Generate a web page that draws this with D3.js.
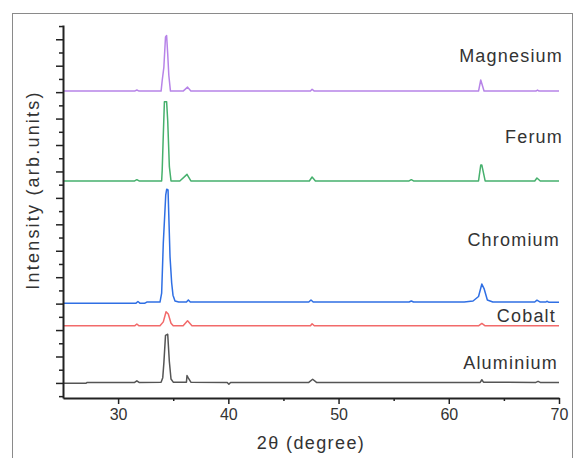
<!DOCTYPE html>
<html>
<head>
<meta charset="utf-8">
<script src="https://cdn.jsdelivr.net/npm/d3@7/dist/d3.min.js"></script>
<style>
  body { margin: 0; background: #fff; }
  text { font-family: "Liberation Sans", Arial, sans-serif; fill: #333; }
  .label { font-size: 18px; letter-spacing: 1.2px; }
  .tick text { font-size: 16px; fill: #333; }
  .series { fill: none; stroke-width: 1.5; stroke-linejoin: round; }
</style>
</head>
<body>
<svg id="chart" width="576" height="458"></svg>
<script>
// XRD patterns, 2theta (degree) vs intensity (arb. units)
let names = ["Aluminium", "Cobalt", "Chromium", "Ferum", "Magnesium"]
let colors = ["#555555", "#f26a6a", "#2f6fe4", "#46b06d", "#b784e8"]
let offsets = [0, 216, 302, 764, 1104]

let aluminium = [[25, -1], [27.1, -1], [27.2, 2], [31.5, 2], [31.7, 8], [31.9, 2],
  [33.9, 3], [34.05, 20], [34.15, 75], [34.3, 180], [34.5, 184], [34.65, 80], [34.8, 15], [35.0, 3],
  [36.2, 3], [36.25, 28], [36.35, 20], [36.6, 3], [39.9, 2], [40.05, -5], [40.2, 2],
  [47.3, 2], [47.65, 14], [48.0, 2], [62.85, 2], [63.0, 12], [63.15, 3],
  [67.9, 2], [68.1, 6], [68.3, 2], [70, 2]]

let cobalt = [[25, 0], [31.5, 0], [31.7, 7], [31.9, 0],
  [33.8, 0], [34.1, 15], [34.35, 53], [34.55, 45], [34.8, 10], [35.0, 0],
  [35.9, 0], [36.3, 19], [36.7, 0], [47.45, 0], [47.6, 8], [47.8, 0],
  [62.7, 0], [63.0, 9], [63.3, 0], [70, 0]]

let chromium = [[25, -1], [31.6, -1], [31.8, 6], [32.0, -1], [32.4, -1], [32.6, 4],
  [33.8, 4], [33.95, 38], [34.1, 227], [34.32, 408], [34.41, 431], [34.53, 428], [34.71, 175],
  [34.86, 76], [34.98, 30], [35.16, 8], [35.5, 4], [36.2, 4], [36.37, 12], [36.55, 4],
  [47.3, 4], [47.5, 12], [47.7, 4], [56.4, 4], [56.6, 8], [56.8, 4],
  [61.4, 4], [62.2, 8], [62.7, 25], [63.0, 72], [63.2, 55], [63.5, 12], [64.0, 4],
  [67.8, 4], [68.0, 11], [68.3, 4], [68.8, 4], [68.9, 7], [69.1, 3], [70, 3]]

let ferum = [[25, 0], [31.5, 0], [31.7, 5], [31.9, 0],
  [33.95, 0], [34.0, 40], [34.08, 148], [34.2, 300], [34.4, 300], [34.5, 228], [34.65, 54], [34.8, 0],
  [35.6, 0], [36.25, 25], [36.6, 0], [47.35, 0], [47.6, 15], [47.9, 0],
  [56.4, 0], [56.6, 5], [56.8, 0], [62.7, 0], [62.9, 60], [63.0, 60], [63.3, 0],
  [67.8, 0], [68.0, 11], [68.3, 0], [70, 0]]

let magnesium = [[25, 0], [31.5, 0], [31.7, 4], [31.9, 0],
  [33.9, 0], [34.0, 40], [34.15, 90], [34.3, 205], [34.4, 210], [34.5, 140], [34.6, 60], [34.75, 0],
  [35.9, 0], [36.3, 15], [36.6, 0], [47.45, 0], [47.6, 7], [47.8, 0],
  [62.7, 0], [62.9, 42], [63.2, 0], [67.9, 0], [68.05, 4], [68.2, 0], [70, 0]]

let patterns = [aluminium, cobalt, chromium, ferum, magnesium]

let xMajor = [30, 40, 50, 60, 70]
let xMinor = [35, 45, 55, 65]
let yMajor = d3.range(0, 1400, 100)
let yMinor = d3.range(-50, 1400, 100)

let svg = d3.select("#chart")

// outer frame
svg.append("rect")
   .attr("x", 12.5).attr("y", 13.5)
   .attr("width", 560).attr("height", 460)
   .attr("fill", "none").attr("stroke", "#8a8a8a")

let x = d3.scaleLinear().domain([25, 70]).range([63, 559])
let y = d3.scaleLinear().domain([-57, 1354]).range([398, 25])

let line = d3.line()
             .x(d => x(d[0]))
             .y(d => d[1])

// series
patterns.forEach((p, i) => {
  svg.append("path")
     .attr("class", "series")
     .attr("stroke", colors[i])
     .attr("d", line(p.map(d => [d[0], y(d[1] + offsets[i])])))
})

// labels, placed just above each trace at the right end
let labelLift = [14, 4, 57, 38, 29]
let labelEnd = [558, 556, 560, 563, 563]
names.forEach((n, i) => {
  svg.append("text")
     .attr("class", "label")
     .attr("x", labelEnd[i])
     .attr("y", y(offsets[i]) - labelLift[i])
     .attr("text-anchor", "end")
     .text(n)
})

// x axis
svg.append("g")
   .attr("transform", "translate(0,398)")
   .call(d3.axisBottom(x).tickValues(xMinor).tickSize(3).tickFormat(""))
   .call(g => g.select(".domain").remove())
let xAxis = svg.append("g")
   .attr("transform", "translate(0,398)")
   .call(d3.axisBottom(x).tickValues(xMajor).tickSize(6).tickSizeOuter(0).tickPadding(5))
xAxis.select(".domain").attr("stroke-width", 2).attr("stroke", "#222")

// y axis
svg.append("g")
   .attr("transform", "translate(63,0)")
   .call(d3.axisLeft(y).tickValues(yMinor).tickSize(4).tickFormat(""))
   .call(g => g.select(".domain").remove())
let yAxis = svg.append("g")
   .attr("transform", "translate(63,0)")
   .call(d3.axisLeft(y).tickValues(yMajor).tickSize(7).tickSizeOuter(0).tickFormat(""))
yAxis.select(".domain").attr("stroke-width", 2).attr("stroke", "#222")

svg.selectAll(".tick line").attr("stroke", "#222").attr("stroke-width", 1.5)

// axis titles
svg.append("text")
   .attr("class", "label")
   .attr("x", 311).attr("y", 449)
   .attr("text-anchor", "middle")
   .style("letter-spacing", "1.4px")
   .text("2θ (degree)")

svg.append("text")
   .attr("class", "label")
   .attr("transform", "translate(39,190) rotate(-90)")
   .attr("text-anchor", "middle")
   .style("letter-spacing", "2.2px")
   .text("Intensity (arb.units)")
</script>
</body>
</html>
